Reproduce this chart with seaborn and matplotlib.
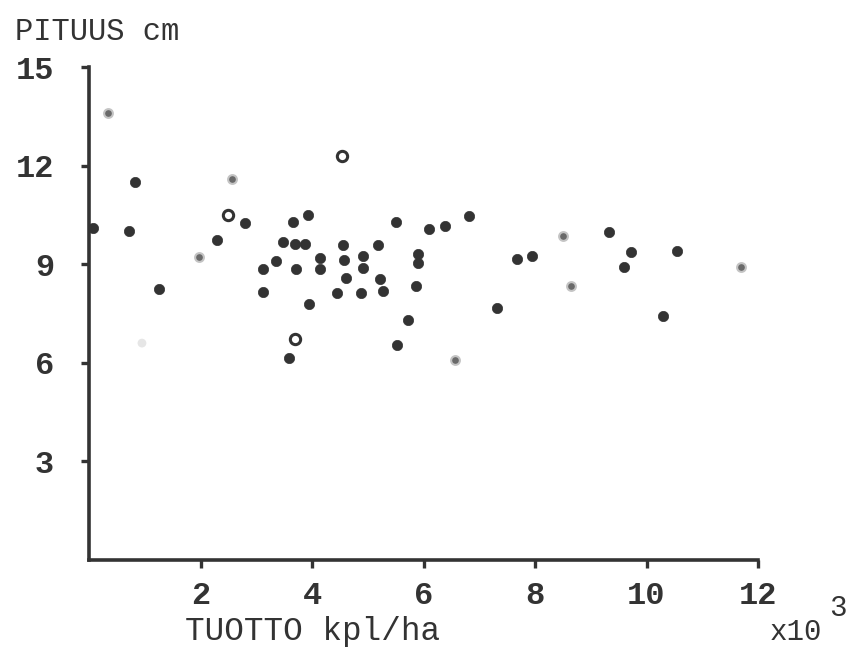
import numpy as np
import pandas as pd
import matplotlib
matplotlib.use("Agg")
import matplotlib.pyplot as plt
import seaborn as sns

# yield (x 1000 pcs/ha) vs. length (cm)
solid_x = [0.07, 0.83, 0.72, 1.26, 2.80, 2.30, 3.12, 3.12, 3.36, 3.66, 3.93, 3.48,
           3.70, 3.88, 3.72, 3.95, 3.59, 4.15, 4.15, 4.56, 4.58, 4.61, 4.45, 4.88,
           4.92, 4.92, 5.19, 5.51, 6.10, 6.39, 6.82, 5.91, 5.91, 5.87, 5.22, 5.28,
           5.73, 5.53, 7.31, 7.68, 7.94, 9.32, 9.73, 9.59, 10.54, 10.30]
solid_y = [10.1, 11.5, 10.0, 8.24, 10.26, 9.74, 8.15, 8.85, 9.1, 10.3, 10.5, 9.68,
           9.62, 9.62, 8.85, 7.8, 6.14, 9.2, 8.85, 9.6, 9.13, 8.58, 8.12, 8.12,
           9.25, 8.88, 9.59, 10.3, 10.07, 10.17, 10.47, 9.3, 9.03, 8.33, 8.55, 8.18,
           7.3, 6.53, 7.66, 9.16, 9.25, 9.98, 9.37, 8.92, 9.4, 7.42]

faint_x = [0.34, 1.97, 2.57, 6.57, 8.51, 8.64, 11.69]
faint_y = [13.6, 9.22, 11.6, 6.1, 9.86, 8.33, 8.92]

pale_x = [0.95]
pale_y = [6.6]

ring_x = [4.54, 3.70, 2.50]
ring_y = [12.3, 6.72, 10.5]

x_ticks = [2, 4, 6, 8, 10, 12]
y_ticks = [3, 6, 9, 12, 15]

sns.set_theme(style="white")
plt.rcParams['font.family'] = ['Liberation Mono', 'DejaVu Sans Mono']

ink = '#333333'

fig = plt.figure(figsize=(8.5, 6.51), dpi=100)
ax = fig.add_axes([0.1047, 0.1398, 0.7871, 0.7572])

solid = pd.DataFrame({'x': solid_x, 'y': solid_y})
faint = pd.DataFrame({'x': faint_x, 'y': faint_y})
pale = pd.DataFrame({'x': pale_x, 'y': pale_y})
rings = pd.DataFrame({'x': ring_x, 'y': ring_y})

sns.scatterplot(data=solid, x='x', y='y', ax=ax, color=ink, s=55,
                edgecolor=ink, linewidth=0.5, clip_on=False, zorder=3)
sns.scatterplot(data=faint, x='x', y='y', ax=ax, color='#6a6a6a', s=40,
                edgecolor='#c4c4c4', linewidth=1.5, clip_on=False, zorder=3)
sns.scatterplot(data=pale, x='x', y='y', ax=ax, color='#e6e6e6', s=40,
                edgecolor='none', zorder=3)
sns.scatterplot(data=rings, x='x', y='y', ax=ax, s=55, facecolor='white',
                edgecolor=ink, linewidth=2.2, zorder=3)

ax.set_xlim(0, 12)
ax.set_ylim(0, 15)
ax.set_xticks(x_ticks)
ax.set_yticks(y_ticks)
ax.set_xticklabels([str(t) for t in x_ticks])
ax.set_yticklabels([str(t) for t in y_ticks])
ax.set_xlabel('')
ax.set_ylabel('')

for side in ['top', 'right']:
    ax.spines[side].set_visible(False)
for side in ['left', 'bottom']:
    ax.spines[side].set_linewidth(2.6)
    ax.spines[side].set_color(ink)

ax.tick_params(axis='both', which='major', direction='out', length=6, width=2.4,
               color=ink, labelcolor=ink, labelsize=23, bottom=True, left=True)
ax.tick_params(axis='x', pad=9)
ax.tick_params(axis='y', pad=19)
for lab in ax.get_xticklabels() + ax.get_yticklabels():
    lab.set_fontweight('bold')

fig.text(0.018, 0.928, 'PITUUS cm', fontsize=22, color=ink, va='bottom', ha='left')
fig.text(0.218, 0.006, 'TUOTTO kpl/ha', fontsize=23.5, color=ink, va='bottom', ha='left')
fig.text(0.905, 0.008, 'x10', fontsize=21, color=ink, va='bottom', ha='left')
fig.text(0.975, 0.045, '3', fontsize=21, color=ink, va='bottom', ha='left')

fig.savefig('out.png', dpi=100, facecolor='white')
